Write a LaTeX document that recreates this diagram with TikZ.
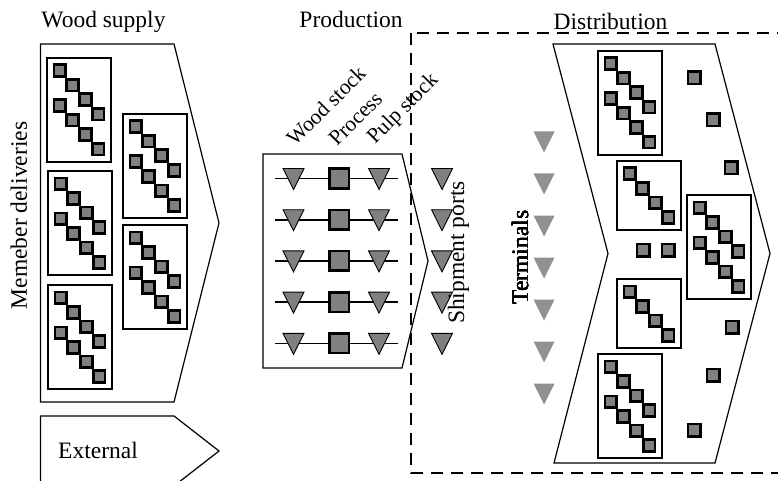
\documentclass[tikz,border=0pt]{standalone}
\usepackage{fontspec}
\setmainfont{Liberation Serif}
\definecolor{stockgray}{gray}{0.5}
\definecolor{termgray}{gray}{0.57}

\tikzset{
  outline/.style={draw=black, line width=1.2pt, line join=miter},
  pilebox/.style={draw=black, line width=2.4pt},
  unit/.style={fill=stockgray, draw=black, line width=2.8pt},
  stock/.style={fill=stockgray, draw=black, line width=0.9pt},
  title/.style={font=\fontsize{23.5}{28}\selectfont, inner sep=0pt},
  colhead/.style={font=\fontsize{21.5}{25}\selectfont, inner sep=0pt, anchor=base west, rotate=45},
}

% one diagonal run of four squares, (#1,#2) = outer top left corner
\newcommand{\stair}[2]{%
  \foreach \k in {0,...,3}
    \filldraw[unit] ({#1+1.4+12.8*\k},{#2+1.4+14.5*\k}) rectangle ++(11.7,11.7);}
% box holding two runs / one run
\newcommand{\pilepair}[2]{%
  \draw[pilebox] (#1,#2) rectangle ++(64,104);
  \stair{#1+5.5}{#2+5.5}
  \stair{#1+5.5}{#2+40.5}}
\newcommand{\pileone}[2]{%
  \draw[pilebox] (#1,#2) rectangle ++(64,69);
  \stair{#1+5.5}{#2+5.5}}
% downward triangle centred on (#2,#3)
\newcommand{\tri}[3][stock]{%
  \path[#1] ({#2-10.5},{#3-10}) -- ++(21,0) -- ({#2},{#3+11}) -- cycle;}

\begin{document}
\begin{tikzpicture}[x=1pt,y=-1pt]
\clip (0,0) rectangle (778,481);

% Distribution area
\draw [line width=1.4pt, dash pattern=on 12pt off 8pt] (411,33) rectangle (800,473);

% Wood supply
\draw [outline] (40.5,44) -- (174,44) -- (219,223) -- (174,402) -- (40.5,402) -- cycle;
\pilepair{47}{58}
\pilepair{48}{171}
\pilepair{48}{285}
\pilepair{123}{114}
\pilepair{123}{225}
\node [title, anchor=base] (wood) at (103.5,28) {Wood supply};
\node [title, anchor=base, rotate=90] (members) at (27,215.5) {Memeber deliveries};

% External
\draw [outline] (40.5,490) -- (40.5,416) -- (174,416) -- (219,451) -- (174,486) -- (40.5,486);
\node [title, anchor=base west] (external) at (58,458) {External};

% Production
\draw [outline] (263,154) -- (402,154) -- (428,261) -- (402,368) -- (263,368) -- cycle;
\foreach \y in {178.5,219.7,260.9,302.1,343.3} {
  \draw [line width=1.6pt] (275,\y) -- (398,\y);
  \tri{293.5}{\y}
  \filldraw [unit, line width=2.6pt] (329.2,{\y-9.8}) rectangle ++(19.6,19.6);
  \tri{379}{\y}
  \tri{442}{\y}
}
\node [title, anchor=base] (prod) at (351,28) {Production};
\node [colhead] (woodstock) at (295,147) {Wood stock};
\node [colhead] (process) at (337,147) {Process};
\node [colhead] (pulpstock) at (375,145) {Pulp stock};
\node [title, anchor=base, rotate=90] (ports) at (464,252.5) {Shipment ports};

% Terminals
\foreach \y in {141.5,183.5,225.5,267.5,309.5,351.5,393.5}
  \tri[fill=termgray]{544}{\y}
\node [title, anchor=base, rotate=90] (terminals) at (528,257.5) {Terminals};

% Distribution
\draw [outline] (553,44) -- (715,44) -- (770,253.5) -- (715,463) -- (554,463) -- (608,253.5) -- cycle;
\pilepair{598}{51}
\pileone{617}{161}
\pilepair{687}{195}
\pileone{617}{279}
\pilepair{598}{354}
\foreach \cx/\cy in {694/78,713/120,731/168,643/250,668/250,732/327,713/375,694/430}
  \filldraw [unit] ({\cx-6.1},{\cy-6.1}) rectangle ++(12.2,12.2);
\node [title, anchor=base] (dist) at (610.5,29.5) {Distribution};
\end{tikzpicture}
\end{document}
